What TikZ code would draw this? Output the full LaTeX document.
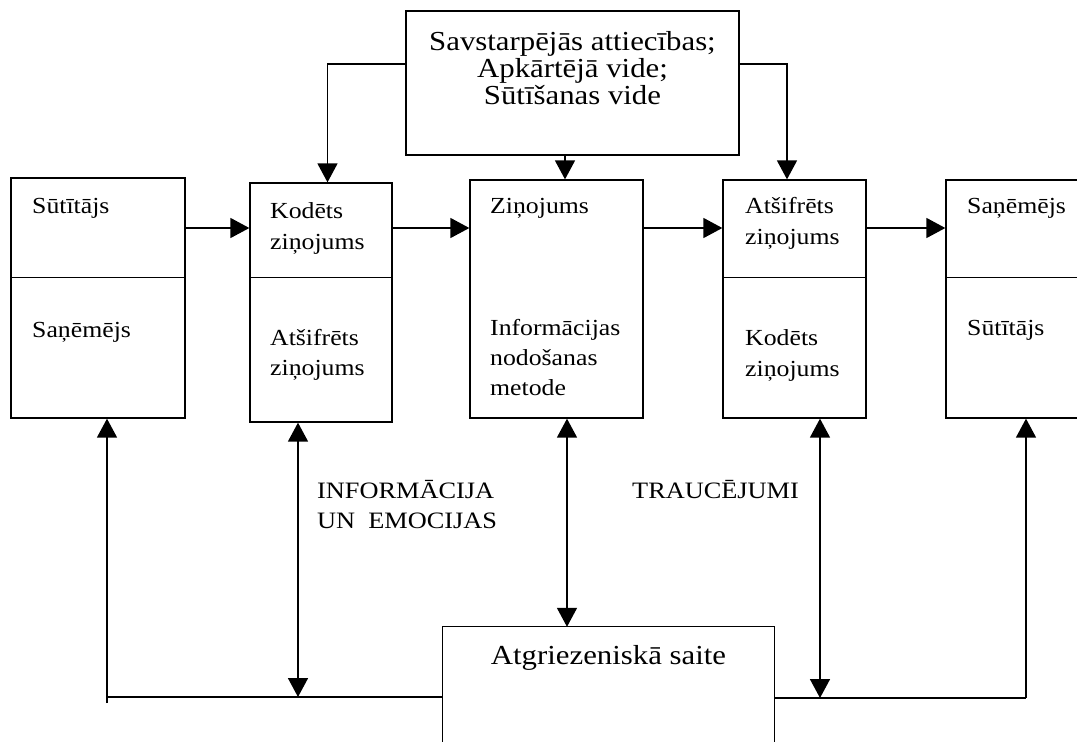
\documentclass[tikz,border=0pt]{standalone}
\usepackage{fontspec}
\setmainfont[FakeStretch=1.12]{Liberation Serif}
\usetikzlibrary{arrows.meta}
\begin{document}
\begin{tikzpicture}[x=1pt,y=-1pt,
  box/.style={draw,line width=1.3pt,rectangle,inner sep=0pt},
  txt/.style={anchor=base west,inner sep=0pt,font=\fontsize{23}{31}\selectfont},
  bigtxt/.style={anchor=base,inner sep=0pt,font=\fontsize{27.5}{26}\selectfont},
  lbl/.style={anchor=base west,inner sep=0pt,font=\fontsize{23.5}{30}\selectfont},
  ln/.style={line width=1.6pt},
  arr/.style={ln,-{Triangle[length=19pt,width=20pt]}},
  darr/.style={ln,{Triangle[length=19pt,width=20pt]}-{Triangle[length=19pt,width=20pt]}}]
\useasboundingbox (0,0) rectangle (1077,742);
% boxes
\node[box,minimum width=333pt,minimum height=144pt] (top) at (572.5,83) {};
\node[box,minimum width=174pt,minimum height=240pt] (b1) at (98,298) {};
\node[box,minimum width=142pt,minimum height=239pt] (b2) at (321,302.5) {};
\node[box,minimum width=173pt,minimum height=238pt] (b3) at (556.5,299) {};
\node[box,minimum width=143pt,minimum height=238pt] (b4) at (794.5,299) {};
\node[box,minimum width=174pt,minimum height=238pt] (b5) at (1033,299) {};
\node[draw=none,minimum width=331pt,minimum height=200pt,inner sep=0pt] (fb) at (608.5,727) {};
\draw[line width=1.3pt] (fb.south west) -- (fb.north west) -- (fb.north east) -- (fb.south east);
% dividers
\draw[line width=1.3pt] ([yshift=-100pt]b1.north west) -- ([yshift=-100pt]b1.north east);
\draw[line width=1.3pt] ([yshift=-95pt]b2.north west) -- ([yshift=-95pt]b2.north east);
\draw[line width=1.3pt] ([yshift=-98pt]b4.north west) -- ([yshift=-98pt]b4.north east);
\draw[line width=1.3pt] ([yshift=-98pt]b5.north west) -- ([yshift=-98pt]b5.north east);
% texts
\node[bigtxt] (ta) at (572.5,50) {Savstarpējās attiecības;};
\node[bigtxt] (tb) at (572.5,77) {Apkārtējā vide;};
\node[bigtxt] (tc) at (572.5,104) {Sūtīšanas vide};
\node[txt] (t1a) at (32,213) {Sūtītājs};
\node[txt] (t1b) at (32,337) {Saņēmējs};
\node[txt] (t2a) at (270,218) {Kodēts};
\node[txt] (t2b) at (270,249) {ziņojums};
\node[txt] (t2c) at (270,345) {Atšifrēts};
\node[txt] (t2d) at (270,375) {ziņojums};
\node[txt] (t3a) at (490,213) {Ziņojums};
\node[txt] (t3b) at (490,335) {Informācijas};
\node[txt] (t3c) at (490,365) {nodošanas};
\node[txt] (t3d) at (490,395) {metode};
\node[txt] (t4a) at (745,213) {Atšifrēts};
\node[txt] (t4b) at (745,244) {ziņojums};
\node[txt] (t4c) at (745,345) {Kodēts};
\node[txt] (t4d) at (745,376) {ziņojums};
\node[txt] (t5a) at (967,213) {Saņēmējs};
\node[txt] (t5b) at (967,335) {Sūtītājs};
\node[bigtxt] (tf) at (608.5,664) {Atgriezeniskā saite};
\node[lbl] (la) at (317,498) {INFORMĀCIJA};
\node[lbl] (lb) at (317,528) {UN\ \ EMOCIJAS};
\node[lbl] (lc) at (632,498) {TRAUCĒJUMI};
% coordinates
\coordinate (hy) at (0,228);
\coordinate (mx) at (565,0);
\coordinate (M) at (567,0);
\coordinate (L1) at (107,697);
\coordinate (L0) at (107,703);
\coordinate (L2) at (298,697);
\coordinate (R1) at (820,698);
\coordinate (R2) at (1026,698);
% top connectors
\draw[arr] ([yshift=19pt]top.west) -| ([xshift=6.5pt]b2.north);
\draw[arr] ([yshift=19pt]top.east) -| ([xshift=-7.5pt]b4.north);
\draw[arr] (top.south -| mx) -- (b3.north -| mx);
% horizontal flow
\draw[arr] (b1.east |- hy) -- (b2.west |- hy);
\draw[arr] (b2.east |- hy) -- (b3.west |- hy);
\draw[arr] (b3.east |- hy) -- (b4.west |- hy);
\draw[arr] (b4.east |- hy) -- (b5.west |- hy);
% bottom feedback
\draw[arr] (L0) -- (b1.south -| L0);
\draw[ln] (L1) -- (fb.west |- L1);
\draw[darr] (L2) -- (b2.south -| L2);
\draw[darr] (b3.south -| M) -- (fb.north -| M);
\draw[darr] (b4.south -| R1) -- (R1);
\draw[ln] (fb.east |- R1) -- (R2);
\draw[arr] (R2) -- (b5.south -| R2);
\end{tikzpicture}
\end{document}
